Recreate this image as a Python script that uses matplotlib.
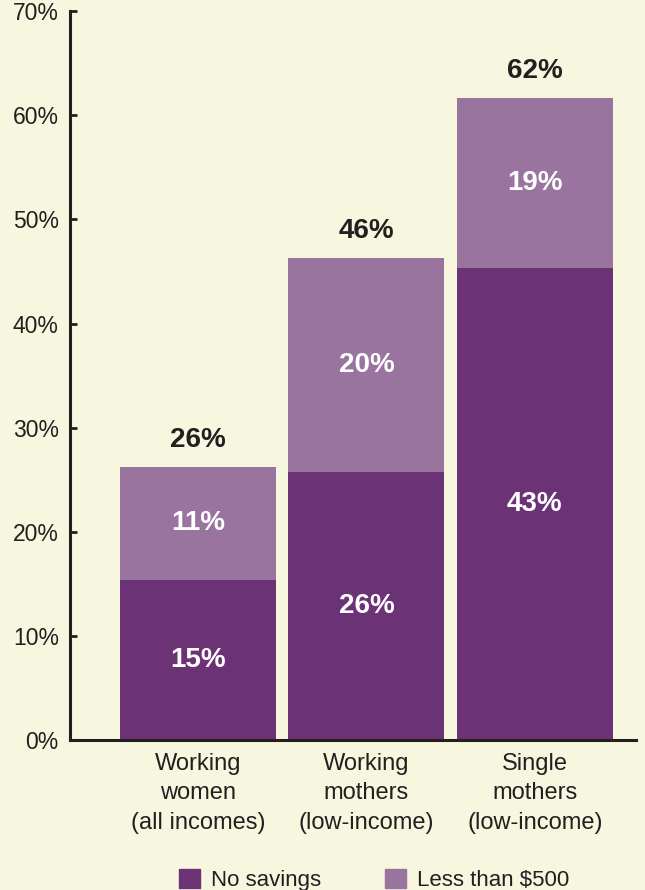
import numpy as np
import matplotlib

matplotlib.use("Agg")
import matplotlib.pyplot as plt  # noqa: E402
from matplotlib.patches import Patch  # noqa: E402

plt.rcParams["font.family"] = ["Liberation Sans Narrow", "Liberation Sans", "DejaVu Sans"]

categories = ["Working\nwomen\n(all incomes)",
              "Working\nmothers\n(low-income)",
              "Single\nmothers\n(low-income)"]
# segment heights as drawn in the picture, and the printed labels
no_savings = [15.4, 25.7, 45.3]
less_500 = [10.8, 20.6, 16.4]
no_savings_lbl = ["15%", "26%", "43%"]
less_500_lbl = ["11%", "20%", "19%"]
total_lbl = ["26%", "46%", "62%"]
yticks = [0, 10, 20, 30, 40, 50, 60, 70]

BG = "#f7f6de"
DARK = "#6b3275"
LIGHT = "#98749f"
INK = "#231f20"

fig = plt.figure(figsize=(6.45, 8.9), dpi=100, facecolor=BG)
ax = fig.add_axes([0.1085, 0.1685, 0.8775, 0.819], facecolor=BG)

x = np.arange(len(categories))
w = 0.926
ax.bar(x, no_savings, w, color=DARK, linewidth=0)
ax.bar(x, less_500, w, bottom=no_savings, color=LIGHT, linewidth=0)

tot = np.array(no_savings) + np.array(less_500)
for i in range(len(x)):
    ax.text(x[i], no_savings[i] / 2, no_savings_lbl[i], ha="center", va="center",
            color="white", fontsize=20, fontweight="bold")
    ax.text(x[i], no_savings[i] + less_500[i] / 2, less_500_lbl[i], ha="center",
            va="center", color="white", fontsize=20, fontweight="bold")
    ax.annotate(total_lbl[i], (x[i], tot[i]), xytext=(0, 10), textcoords="offset points",
                ha="center", va="bottom", color=INK, fontsize=20, fontweight="bold")

ax.set_xlim(-0.76, 2.6)
ax.set_ylim(0, 70)
ax.set_yticks(yticks)
ax.set_yticklabels([f"{v}%" for v in yticks], fontsize=16.5, color=INK)
ax.set_xticks(x)
ax.set_xticklabels(categories, fontsize=17, color=INK, linespacing=1.45)
ax.tick_params(axis="y", direction="in", length=5, width=2, color=INK, pad=8)
ax.tick_params(axis="x", length=0, pad=9)
for s in ["top", "right"]:
    ax.spines[s].set_visible(False)
for s in ["left", "bottom"]:
    ax.spines[s].set_linewidth(2.2)
    ax.spines[s].set_color(INK)

handles = [Patch(color=DARK, label="No savings"), Patch(color=LIGHT, label="Less than $500")]
fig.legend(handles=handles, loc="center", bbox_to_anchor=(0.58, 0.011), ncol=2,
           frameon=False, fontsize=16, handlelength=0.92, handleheight=0.92,
           handletextpad=0.5, columnspacing=2.9, labelcolor=INK)

fig.savefig("out.png", dpi=100, facecolor=BG)
